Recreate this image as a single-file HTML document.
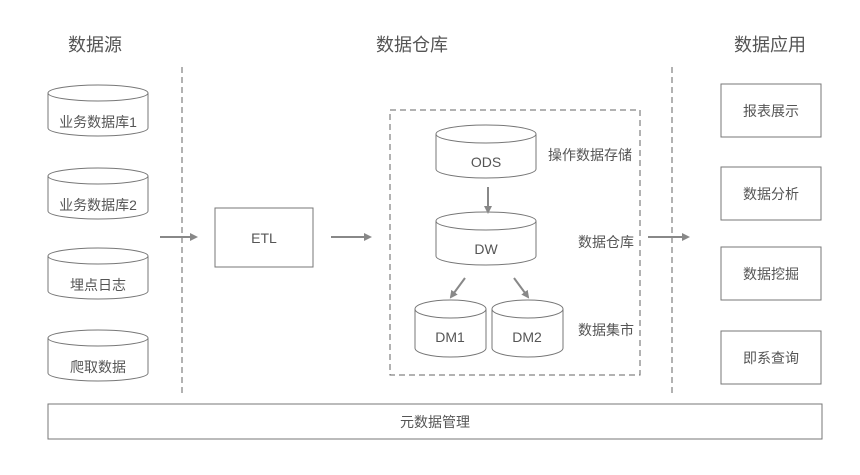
<!DOCTYPE html>
<html><head><meta charset="utf-8"><style>
html,body{margin:0;padding:0;background:#fff;}
svg{display:block;}
text{font-family:"Liberation Sans","Noto Sans CJK SC",sans-serif;fill:#555;}
</style></head><body>
<svg width="860" height="475" viewBox="0 0 860 475" xmlns="http://www.w3.org/2000/svg">
<defs>
<marker id="ah" markerWidth="8" markerHeight="8" refX="6" refY="4" orient="auto" markerUnits="userSpaceOnUse">
<path d="M0,0 L8,4 L0,8 z" fill="#888"/>
</marker>
</defs>
<g font-size="18" text-anchor="middle">
<text x="95" y="51">数据源</text>
<text x="412" y="51">数据仓库</text>
<text x="770" y="51">数据应用</text>
</g>
<g stroke="#666" stroke-width="1" stroke-dasharray="6,4" fill="none">
<line x1="182" y1="67" x2="182" y2="395"/>
<line x1="672" y1="67" x2="672" y2="395"/>
<rect x="390" y="110" width="250" height="265"/>
</g>
<g stroke="#777" stroke-width="1" fill="#fff">
<!-- left cylinders -->
<path d="M48,93 L48,128 A50,8 0 0 0 148,128 L148,93"/><ellipse cx="98" cy="93" rx="50" ry="8"/>
<path d="M48,176 L48,211 A50,8 0 0 0 148,211 L148,176"/><ellipse cx="98" cy="176" rx="50" ry="8"/>
<path d="M48,256 L48,291 A50,8 0 0 0 148,291 L148,256"/><ellipse cx="98" cy="256" rx="50" ry="8"/>
<path d="M48,338 L48,373 A50,8 0 0 0 148,373 L148,338"/><ellipse cx="98" cy="338" rx="50" ry="8"/>
<!-- ODS / DW -->
<path d="M436,134 L436,169 A50,9 0 0 0 536,169 L536,134"/><ellipse cx="486" cy="134" rx="50" ry="9"/>
<path d="M436,221 L436,256 A50,9 0 0 0 536,256 L536,221"/><ellipse cx="486" cy="221" rx="50" ry="9"/>
<!-- DM -->
<path d="M415,309 L415,348 A35.5,9 0 0 0 486,348 L486,309"/><ellipse cx="450.5" cy="309" rx="35.5" ry="9"/>
<path d="M492,309 L492,348 A35.5,9 0 0 0 563,348 L563,309"/><ellipse cx="527.5" cy="309" rx="35.5" ry="9"/>
<rect x="215" y="208" width="98" height="59"/>
<rect x="721" y="84" width="100" height="53"/>
<rect x="721" y="167" width="100" height="53"/>
<rect x="721" y="247" width="100" height="53"/>
<rect x="721" y="331" width="100" height="53"/>
<rect x="48" y="404" width="774" height="35"/>
</g>
<g stroke="#888" stroke-width="2" fill="none" marker-end="url(#ah)">
<line x1="160" y1="237" x2="196" y2="237"/>
<line x1="331" y1="237" x2="370" y2="237"/>
<line x1="648" y1="237" x2="688" y2="237"/>
<line x1="488" y1="187" x2="488" y2="212"/>
<line x1="465" y1="278" x2="451" y2="297"/>
<line x1="514" y1="278" x2="528" y2="297"/>
</g>
<g font-size="14" text-anchor="middle">
<text x="98" y="127">业务数据库1</text>
<text x="98" y="210">业务数据库2</text>
<text x="98" y="290">埋点日志</text>
<text x="98" y="372">爬取数据</text>
<text x="264" y="243">ETL</text>
<text x="486" y="167">ODS</text>
<text x="486" y="254">DW</text>
<text x="450" y="342">DM1</text>
<text x="527" y="342">DM2</text>
<text x="771" y="116">报表展示</text>
<text x="771" y="199">数据分析</text>
<text x="771" y="279">数据挖掘</text>
<text x="771" y="363">即系查询</text>
<text x="435" y="427">元数据管理</text>
</g>
<g font-size="14" text-anchor="start">
<text x="548" y="160">操作数据存储</text>
<text x="578" y="247">数据仓库</text>
<text x="578" y="335">数据集市</text>
</g>
</svg>
</body></html>
